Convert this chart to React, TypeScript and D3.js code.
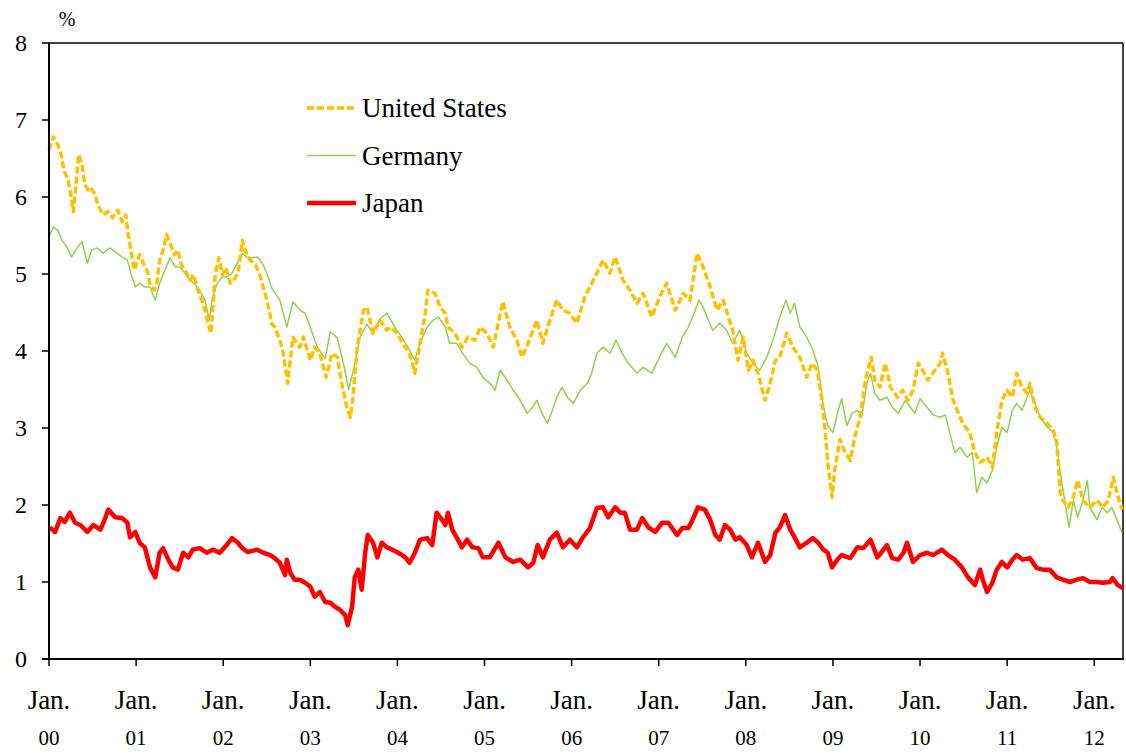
import * as d3 from 'd3'
import React from 'react'

// 10-year government bond yields (year as decimal, % value)
const unitedStates: [number, number][] = [
  [2000.0, 6.61], [2000.05, 6.78], [2000.1, 6.68], [2000.14, 6.55], [2000.17, 6.35], [2000.22, 6.22],
  [2000.25, 6.03], [2000.28, 5.81], [2000.31, 6.16], [2000.34, 6.55], [2000.38, 6.42], [2000.41, 6.16],
  [2000.45, 6.09], [2000.48, 6.12], [2000.53, 6.03], [2000.56, 5.9], [2000.62, 5.77], [2000.68, 5.81],
  [2000.73, 5.73], [2000.79, 5.83], [2000.84, 5.68], [2000.88, 5.77], [2000.91, 5.51], [2000.94, 5.31],
  [2000.98, 5.05], [2001.01, 5.16], [2001.04, 5.25], [2001.09, 5.12], [2001.13, 5.03], [2001.16, 4.86],
  [2001.21, 4.79], [2001.24, 4.9], [2001.27, 5.18], [2001.31, 5.31], [2001.35, 5.51], [2001.39, 5.4],
  [2001.44, 5.25], [2001.48, 5.31], [2001.52, 5.12], [2001.56, 5.05], [2001.62, 4.92], [2001.66, 4.99],
  [2001.71, 4.79], [2001.76, 4.64], [2001.79, 4.53], [2001.83, 4.34], [2001.86, 4.23], [2001.91, 5.01],
  [2001.95, 5.21], [2001.99, 4.99], [2002.03, 5.08], [2002.08, 4.88], [2002.12, 4.92], [2002.17, 5.01],
  [2002.22, 5.44], [2002.25, 5.31], [2002.31, 5.18], [2002.37, 5.12], [2002.42, 4.99], [2002.47, 4.79],
  [2002.51, 4.62], [2002.56, 4.35], [2002.59, 4.31], [2002.65, 4.14], [2002.69, 3.97], [2002.74, 3.58],
  [2002.8, 4.18], [2002.88, 4.05], [2002.92, 4.18], [2003.0, 3.88], [2003.05, 4.05], [2003.11, 3.97],
  [2003.18, 3.66], [2003.25, 3.97], [2003.31, 3.92], [2003.36, 3.58], [2003.42, 3.27], [2003.46, 3.14],
  [2003.49, 3.4], [2003.54, 4.05], [2003.61, 4.53], [2003.65, 4.57], [2003.72, 4.23], [2003.8, 4.4],
  [2003.88, 4.27], [2003.92, 4.31], [2004.0, 4.23], [2004.06, 4.1], [2004.14, 3.97], [2004.2, 3.71],
  [2004.26, 4.1], [2004.32, 4.49], [2004.35, 4.79], [2004.43, 4.75], [2004.49, 4.57], [2004.55, 4.49],
  [2004.58, 4.31], [2004.66, 4.23], [2004.74, 4.05], [2004.81, 4.18], [2004.89, 4.14], [2004.95, 4.31],
  [2005.03, 4.23], [2005.1, 4.05], [2005.21, 4.64], [2005.29, 4.31], [2005.37, 4.14], [2005.43, 3.92],
  [2005.5, 4.1], [2005.6, 4.4], [2005.67, 4.1], [2005.75, 4.4], [2005.83, 4.66], [2005.9, 4.53],
  [2005.98, 4.49], [2006.06, 4.36], [2006.15, 4.7], [2006.25, 4.92], [2006.36, 5.18], [2006.44, 5.01],
  [2006.5, 5.22], [2006.59, 4.92], [2006.67, 4.79], [2006.75, 4.62], [2006.82, 4.75], [2006.92, 4.44],
  [2007.01, 4.7], [2007.09, 4.88], [2007.19, 4.53], [2007.28, 4.75], [2007.36, 4.66], [2007.44, 5.27],
  [2007.51, 5.09], [2007.59, 4.83], [2007.67, 4.53], [2007.74, 4.66], [2007.8, 4.44], [2007.85, 4.27],
  [2007.91, 3.88], [2007.97, 4.18], [2008.03, 3.75], [2008.08, 3.88], [2008.14, 3.71], [2008.22, 3.36],
  [2008.28, 3.58], [2008.34, 3.88], [2008.39, 3.92], [2008.47, 4.23], [2008.54, 4.05], [2008.62, 3.92],
  [2008.7, 3.66], [2008.76, 3.84], [2008.82, 3.75], [2008.87, 3.4], [2008.91, 2.97], [2008.94, 2.55],
  [2008.99, 2.1], [2009.02, 2.45], [2009.08, 2.85], [2009.14, 2.68], [2009.2, 2.58], [2009.25, 2.88],
  [2009.31, 3.14], [2009.38, 3.66], [2009.44, 3.92], [2009.48, 3.62], [2009.54, 3.53], [2009.6, 3.84],
  [2009.66, 3.53], [2009.74, 3.4], [2009.8, 3.49], [2009.86, 3.36], [2009.92, 3.49], [2009.98, 3.84],
  [2010.03, 3.75], [2010.09, 3.62], [2010.17, 3.75], [2010.23, 3.84], [2010.26, 3.97], [2010.32, 3.71],
  [2010.38, 3.36], [2010.44, 3.19], [2010.49, 3.06], [2010.57, 2.94], [2010.63, 2.68], [2010.69, 2.55],
  [2010.77, 2.62], [2010.83, 2.49], [2010.88, 2.94], [2010.94, 3.36], [2011.0, 3.49], [2011.06, 3.4],
  [2011.11, 3.71], [2011.17, 3.53], [2011.23, 3.45], [2011.26, 3.58], [2011.32, 3.27], [2011.38, 3.14],
  [2011.46, 3.06], [2011.53, 2.97], [2011.57, 2.81], [2011.61, 2.16], [2011.64, 2.06], [2011.7, 1.97],
  [2011.76, 2.1], [2011.81, 2.32], [2011.87, 2.06], [2011.95, 1.97], [2012.03, 2.06], [2012.1, 1.97],
  [2012.16, 2.06], [2012.22, 2.36], [2012.26, 2.16], [2012.32, 1.94],
]

const germany: [number, number][] = [
  [2000.0, 5.48], [2000.05, 5.61], [2000.1, 5.57], [2000.15, 5.44], [2000.21, 5.34], [2000.26, 5.22],
  [2000.33, 5.35], [2000.38, 5.42], [2000.44, 5.14], [2000.49, 5.31], [2000.55, 5.34], [2000.62, 5.27],
  [2000.7, 5.34], [2000.78, 5.27], [2000.84, 5.22], [2000.9, 5.18], [2000.94, 5.01], [2000.99, 4.83],
  [2001.04, 4.88], [2001.1, 4.83], [2001.16, 4.83], [2001.22, 4.66], [2001.27, 4.88], [2001.33, 5.05],
  [2001.39, 5.21], [2001.45, 5.09], [2001.5, 5.09], [2001.56, 5.01], [2001.62, 4.92], [2001.68, 4.86],
  [2001.73, 4.79], [2001.79, 4.66], [2001.84, 4.4], [2001.87, 4.66], [2001.93, 4.88], [2001.99, 4.96],
  [2002.04, 4.96], [2002.1, 5.01], [2002.16, 5.14], [2002.22, 5.27], [2002.27, 5.22], [2002.33, 5.21],
  [2002.39, 5.22], [2002.45, 5.14], [2002.5, 5.01], [2002.56, 4.81], [2002.65, 4.66], [2002.73, 4.31],
  [2002.8, 4.64], [2002.88, 4.53], [2002.94, 4.49], [2003.0, 4.31], [2003.08, 4.05], [2003.17, 3.9],
  [2003.23, 4.25], [2003.31, 4.17], [2003.38, 3.84], [2003.44, 3.5], [2003.5, 3.78], [2003.57, 4.18],
  [2003.65, 4.35], [2003.72, 4.23], [2003.8, 4.42], [2003.88, 4.49], [2003.97, 4.31], [2004.05, 4.18],
  [2004.12, 4.05], [2004.2, 3.88], [2004.26, 4.1], [2004.34, 4.31], [2004.41, 4.4], [2004.47, 4.44],
  [2004.55, 4.31], [2004.6, 4.1], [2004.68, 4.1], [2004.75, 3.97], [2004.83, 3.84], [2004.91, 3.79],
  [2004.98, 3.66], [2005.06, 3.58], [2005.12, 3.49], [2005.18, 3.75], [2005.26, 3.62], [2005.33, 3.49],
  [2005.41, 3.36], [2005.49, 3.19], [2005.55, 3.27], [2005.6, 3.36], [2005.66, 3.19], [2005.72, 3.06],
  [2005.78, 3.23], [2005.83, 3.4], [2005.89, 3.53], [2005.95, 3.4], [2006.02, 3.32], [2006.1, 3.49],
  [2006.18, 3.58], [2006.23, 3.71], [2006.29, 3.97], [2006.36, 4.05], [2006.44, 3.97], [2006.51, 4.14],
  [2006.58, 3.97], [2006.65, 3.84], [2006.75, 3.71], [2006.82, 3.79], [2006.92, 3.71], [2007.01, 3.92],
  [2007.09, 4.1], [2007.19, 3.92], [2007.27, 4.18], [2007.34, 4.31], [2007.42, 4.53], [2007.46, 4.66],
  [2007.51, 4.57], [2007.57, 4.4], [2007.62, 4.27], [2007.7, 4.36], [2007.78, 4.27], [2007.85, 4.1],
  [2007.93, 4.27], [2008.01, 3.97], [2008.08, 3.84], [2008.16, 3.75], [2008.24, 3.92], [2008.31, 4.14],
  [2008.39, 4.44], [2008.46, 4.66], [2008.51, 4.49], [2008.56, 4.62], [2008.62, 4.31], [2008.7, 4.18],
  [2008.77, 4.01], [2008.83, 3.8], [2008.89, 3.28], [2008.94, 3.03], [2009.0, 2.94], [2009.06, 3.23],
  [2009.1, 3.38], [2009.16, 3.03], [2009.22, 3.19], [2009.28, 3.23], [2009.33, 3.14], [2009.39, 3.58],
  [2009.43, 3.71], [2009.48, 3.45], [2009.54, 3.36], [2009.62, 3.4], [2009.68, 3.27], [2009.75, 3.19],
  [2009.83, 3.36], [2009.89, 3.27], [2009.94, 3.19], [2010.0, 3.38], [2010.08, 3.27], [2010.15, 3.17],
  [2010.23, 3.14], [2010.29, 3.17], [2010.34, 2.94], [2010.4, 2.68], [2010.46, 2.75], [2010.54, 2.62],
  [2010.6, 2.68], [2010.65, 2.16], [2010.71, 2.36], [2010.77, 2.29], [2010.83, 2.45], [2010.88, 2.75],
  [2010.94, 3.01], [2011.0, 2.94], [2011.06, 3.23], [2011.11, 3.32], [2011.17, 3.23], [2011.23, 3.4],
  [2011.26, 3.49], [2011.32, 3.32], [2011.38, 3.14], [2011.46, 3.01], [2011.53, 2.94], [2011.57, 2.75],
  [2011.61, 2.42], [2011.66, 2.06], [2011.71, 1.71], [2011.76, 2.06], [2011.81, 1.84], [2011.87, 2.06],
  [2011.92, 2.32], [2011.95, 1.97], [2012.03, 1.81], [2012.09, 1.97], [2012.15, 1.9], [2012.2, 1.97],
  [2012.26, 1.81], [2012.32, 1.64],
]

const japan: [number, number][] = [
  [2000.01, 1.71], [2000.07, 1.65], [2000.13, 1.83], [2000.18, 1.78], [2000.24, 1.9], [2000.3, 1.77],
  [2000.36, 1.74], [2000.44, 1.65], [2000.51, 1.74], [2000.59, 1.68], [2000.64, 1.81], [2000.68, 1.94],
  [2000.76, 1.84], [2000.84, 1.83], [2000.9, 1.77], [2000.93, 1.58], [2000.99, 1.65], [2001.04, 1.51],
  [2001.1, 1.45], [2001.16, 1.19], [2001.22, 1.06], [2001.27, 1.38], [2001.31, 1.44], [2001.37, 1.29],
  [2001.42, 1.19], [2001.48, 1.16], [2001.54, 1.38], [2001.6, 1.32], [2001.65, 1.42], [2001.73, 1.44],
  [2001.81, 1.38], [2001.88, 1.42], [2001.96, 1.38], [2002.04, 1.48], [2002.1, 1.57], [2002.16, 1.52],
  [2002.22, 1.44], [2002.28, 1.39], [2002.39, 1.42], [2002.46, 1.38], [2002.54, 1.35], [2002.59, 1.31],
  [2002.65, 1.25], [2002.71, 1.09], [2002.73, 1.29], [2002.77, 1.12], [2002.82, 1.03], [2002.88, 1.03],
  [2002.94, 0.99], [2003.0, 0.94], [2003.05, 0.81], [2003.11, 0.87], [2003.17, 0.74], [2003.23, 0.73],
  [2003.28, 0.68], [2003.34, 0.64], [2003.4, 0.57], [2003.43, 0.44], [2003.48, 0.68], [2003.51, 1.06],
  [2003.55, 1.16], [2003.59, 0.9], [2003.63, 1.38], [2003.66, 1.61], [2003.72, 1.51], [2003.77, 1.32],
  [2003.82, 1.51], [2003.88, 1.45], [2003.94, 1.42], [2004.01, 1.38], [2004.09, 1.32], [2004.14, 1.25],
  [2004.2, 1.38], [2004.26, 1.55], [2004.34, 1.57], [2004.4, 1.48], [2004.45, 1.9], [2004.51, 1.81],
  [2004.55, 1.74], [2004.58, 1.9], [2004.63, 1.68], [2004.68, 1.58], [2004.74, 1.45], [2004.8, 1.55],
  [2004.86, 1.45], [2004.93, 1.44], [2004.98, 1.32], [2005.06, 1.32], [2005.16, 1.51], [2005.24, 1.32],
  [2005.33, 1.26], [2005.41, 1.29], [2005.5, 1.19], [2005.56, 1.25], [2005.61, 1.48], [2005.67, 1.32],
  [2005.75, 1.55], [2005.83, 1.64], [2005.9, 1.45], [2005.98, 1.55], [2006.06, 1.45], [2006.13, 1.58],
  [2006.21, 1.7], [2006.29, 1.96], [2006.36, 1.97], [2006.42, 1.84], [2006.5, 1.97], [2006.56, 1.9],
  [2006.61, 1.9], [2006.67, 1.68], [2006.75, 1.68], [2006.81, 1.83], [2006.88, 1.71], [2006.96, 1.65],
  [2007.04, 1.77], [2007.11, 1.77], [2007.21, 1.61], [2007.27, 1.7], [2007.34, 1.7], [2007.39, 1.81],
  [2007.45, 1.97], [2007.53, 1.94], [2007.59, 1.81], [2007.65, 1.61], [2007.7, 1.55], [2007.76, 1.74],
  [2007.82, 1.68], [2007.88, 1.55], [2007.93, 1.58], [2008.01, 1.48], [2008.07, 1.32], [2008.14, 1.51],
  [2008.22, 1.26], [2008.28, 1.35], [2008.34, 1.64], [2008.39, 1.71], [2008.45, 1.87], [2008.51, 1.68],
  [2008.56, 1.58], [2008.62, 1.45], [2008.7, 1.51], [2008.77, 1.57], [2008.83, 1.51], [2008.89, 1.42],
  [2008.94, 1.38], [2008.99, 1.19], [2009.05, 1.29], [2009.1, 1.35], [2009.2, 1.31], [2009.28, 1.45],
  [2009.35, 1.44], [2009.43, 1.55], [2009.51, 1.32], [2009.56, 1.39], [2009.62, 1.48], [2009.68, 1.31],
  [2009.75, 1.29], [2009.81, 1.38], [2009.85, 1.51], [2009.92, 1.26], [2010.0, 1.35], [2010.08, 1.38],
  [2010.15, 1.35], [2010.25, 1.42], [2010.32, 1.35], [2010.4, 1.29], [2010.48, 1.19], [2010.55, 1.06],
  [2010.63, 0.96], [2010.69, 1.16], [2010.72, 1.03], [2010.77, 0.87], [2010.83, 0.99], [2010.88, 1.16],
  [2010.94, 1.26], [2011.0, 1.19], [2011.06, 1.29], [2011.11, 1.35], [2011.18, 1.29], [2011.26, 1.31],
  [2011.34, 1.18], [2011.41, 1.16], [2011.49, 1.16], [2011.57, 1.06], [2011.64, 1.03], [2011.72, 1.0],
  [2011.8, 1.03], [2011.87, 1.05], [2011.95, 1.0], [2012.03, 1.0], [2012.1, 0.99], [2012.18, 1.0],
  [2012.21, 1.05], [2012.27, 0.96], [2012.33, 0.92],
]

const yearTicks = d3.range(2000, 2013)
const yTicks = d3.range(0, 9)

const width = 1126
const height = 753
const margin = { top: 43, right: 3, bottom: 94, left: 49 }
const font = 'Liberation Serif'

const App: React.FC = () => {
  const x = d3.scaleLinear().domain([2000, 2012.33]).range([margin.left, width - margin.right])
  const y = d3.scaleLinear().domain([0, 8]).range([height - margin.bottom, margin.top])

  const line = d3
    .line<[number, number]>()
    .x(d => x(d[0]))
    .y(d => y(d[1]))

  const x0 = x.range()[0]
  const x1 = x.range()[1]
  const yBottom = y(0)
  const yTop = y(8)

  const legend = [
    { label: 'United States', color: '#FFC000', width: 3.5, dash: '7,3' },
    { label: 'Germany', color: '#92D050', width: 1.5, dash: undefined },
    { label: 'Japan', color: '#FF0000', width: 4.5, dash: undefined },
  ]

  const txt = { fontFamily: font }

  return (
    <svg width={width} height={height} style={{ position: 'absolute', left: 0, top: 0, background: '#fff' }}>
      {/* frame */}
      <line x1={x0} y1={yTop} x2={x1} y2={yTop} stroke="#000" strokeWidth={1.5} />
      <line x1={x1} y1={yTop} x2={x1} y2={yBottom} stroke="#000" strokeWidth={1.5} />

      {/* series */}
      <path d={line(germany) ?? ''} fill="none" stroke="#92D050" strokeWidth={1.5} strokeLinejoin="round" />
      <path
        d={line(unitedStates) ?? ''}
        fill="none"
        stroke="#FFC000"
        strokeWidth={3.5}
        strokeDasharray="7,3"
        strokeLinejoin="round"
      />
      <path d={line(japan) ?? ''} fill="none" stroke="#FF0000" strokeWidth={4.5} strokeLinejoin="round" />

      {/* y axis */}
      <line x1={x0} y1={yTop} x2={x0} y2={yBottom + 1} stroke="#000" strokeWidth={2} />
      {yTicks.map(t => (
        <g key={t}>
          <line x1={x0 - 7} x2={x0} y1={y(t)} y2={y(t)} stroke="#000" strokeWidth={1.5} />
          <text x={27} y={y(t)} dy="0.34em" textAnchor="end" fontSize={24} fill="#000" style={txt}>
            {t}
          </text>
        </g>
      ))}
      <text x={67} y={26} textAnchor="middle" fontSize={20} fill="#000" style={txt}>
        %
      </text>

      {/* x axis */}
      <line x1={x0 - 7} y1={yBottom} x2={x1 + 1} y2={yBottom} stroke="#000" strokeWidth={2} />
      {yearTicks.map(t => (
        <g key={t}>
          <line x1={x(t)} x2={x(t)} y1={yBottom} y2={yBottom + 7} stroke="#000" strokeWidth={1.5} />
          <text x={x(t)} y={709} textAnchor="middle" fontSize={27} fill="#000" style={txt}>
            Jan.
          </text>
          <text x={x(t)} y={745} textAnchor="middle" fontSize={21} fill="#000" style={txt}>
            {String(t % 100).padStart(2, '0')}
          </text>
        </g>
      ))}

      {/* legend */}
      {legend.map((d, i) => (
        <g key={d.label} transform={`translate(307, ${108 + i * 47.5})`}>
          <line x1={0} x2={49} y1={0} y2={0} stroke={d.color} strokeWidth={d.width} strokeDasharray={d.dash} />
          <text x={55} y={0} dy="0.34em" fontSize={27} fill="#000" style={txt}>
            {d.label}
          </text>
        </g>
      ))}
    </svg>
  )
}

export default App
